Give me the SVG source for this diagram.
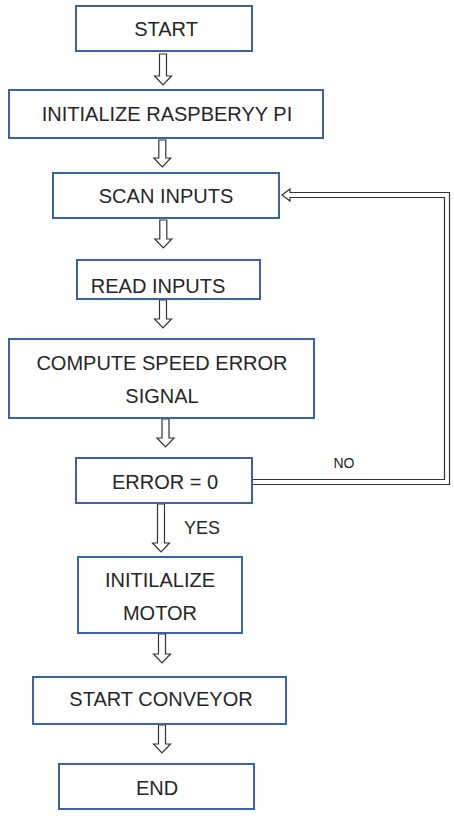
<svg xmlns="http://www.w3.org/2000/svg" width="454" height="820" viewBox="0 0 454 820">
<style>
.box{fill:#fff;stroke:#3a62a8;stroke-width:2}
.t{font-family:"Liberation Sans",Arial,sans-serif;font-size:20px;fill:#262626;text-anchor:middle}
.lbl{font-family:"Liberation Sans",Arial,sans-serif;fill:#262626;text-anchor:middle}
.arr{fill:#fff;stroke:#333;stroke-width:1.2;stroke-linejoin:miter}
</style>
<rect width="454" height="820" fill="#fff"/>
<g id="connectors">
<path class="arr" d="M159.5,54 H166.5 V76 H171.5 L163,85 L154.5,76 H159.5 Z"/>
<path class="arr" d="M158.8,140 H165.8 V158 H170.8 L162.3,167 L153.8,158 H158.8 Z"/>
<path class="arr" d="M159.8,220 H166.8 V239 H171.8 L163.3,248 L154.8,239 H159.8 Z"/>
<path class="arr" d="M159.5,300 H166.5 V319 H171.5 L163,328 L154.5,319 H159.5 Z"/>
<path class="arr" d="M162,419 H169 V438 H174 L165.5,447 L157,438 H162 Z"/>
<path class="arr" d="M157.5,504 H164.5 V543 H169.5 L161,552 L152.5,543 H157.5 Z"/>
<path class="arr" d="M158.5,634 H165.5 V654 H170.5 L162,663 L153.5,654 H158.5 Z"/>
<path class="arr" d="M158.5,725 H165.5 V744 H170.5 L162,753 L153.5,744 H158.5 Z"/>
<path class="arr" d="M252,479.5 H444.5 V197.5 H290 V201 L282,195 L290,189 V192.5 H449.5 V484.5 H252 Z"/>
<text class="lbl" x="344" y="468" font-size="14">NO</text>
<text class="lbl" x="202" y="534" font-size="18">YES</text>
</g>
<g id="start"><rect class="box" x="76" y="6" width="176" height="45"/><text class="t" x="166" y="36">START</text></g>
<g id="init-pi"><rect class="box" x="9" y="90" width="314" height="48"/><text class="t" x="167" y="121">INITIALIZE RASPBERYY PI</text></g>
<g id="scan"><rect class="box" x="53" y="173" width="226" height="45"/><text class="t" x="166" y="203">SCAN INPUTS</text></g>
<g id="read"><rect class="box" x="77" y="260" width="183" height="39"/><text class="t" x="158" y="293">READ INPUTS</text></g>
<g id="compute"><rect class="box" x="9" y="339" width="305" height="79"/><text class="t" x="162" y="370">COMPUTE SPEED ERROR</text><text class="t" x="162" y="403">SIGNAL</text></g>
<g id="error"><rect class="box" x="76" y="458" width="176" height="45"/><text class="t" x="165" y="489">ERROR = 0</text></g>
<g id="init-motor"><rect class="box" x="78" y="557" width="164" height="76"/><text class="t" x="160" y="587">INITILALIZE</text><text class="t" x="160" y="620">MOTOR</text></g>
<g id="conveyor"><rect class="box" x="33" y="677" width="253" height="47"/><text class="t" x="161" y="706">START CONVEYOR</text></g>
<g id="end"><rect class="box" x="59" y="764" width="195" height="45"/><text class="t" x="157" y="795">END</text></g>
</svg>
